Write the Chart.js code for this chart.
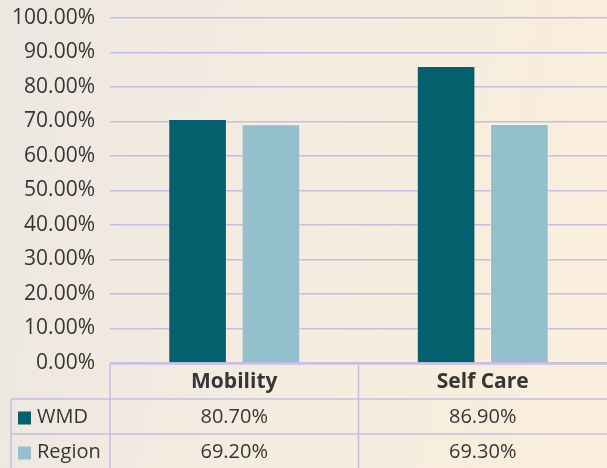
<!DOCTYPE html>
<html>
<head>
<meta charset="utf-8">
<script src="https://cdn.jsdelivr.net/npm/chart.js@4"></script>
<style>
  html, body { margin: 0; padding: 0; }
  body {
    width: 607px;
    height: 468px;
    background: linear-gradient(100deg, #ebe7e1 0%, #f4ece0 45%, #fbeedc 100%);
    overflow: hidden;
  }
  #wrap { position: relative; width: 607px; height: 468px; }
</style>
</head>
<body>
<div id="wrap"><canvas id="chart" width="607" height="468"></canvas></div>
<script>
// Chart data
const categories = ["Mobility", "Self Care"];
const seriesNames = ["WMD", "Region"];
const wmdValues = [70.7, 86.1];
const regionValues = [69.2, 69.3];
// table text as printed under the chart
const wmdLabels = ["80.70%", "86.90%"];
const regionLabels = ["69.20%", "69.30%"];

const wmdColor = "#05606d";
const regionColor = "#93c0cc";
const gridColor = "#c6bde4";
const textColor = "#363636";
const fontFamily = "'Open Sans', sans-serif";

// Draws the data table under the plot
const tablePlugin = {
  id: "dataTable",
  afterDraw(chart) {
    const ctx = chart.ctx;
    const area = chart.chartArea;
    const x = chart.scales.x;
    const top = area.bottom + 1;
    const rowH = 35;
    const left = 11;
    const right = chart.width;
    const mid = (x.getPixelForValue(0) + x.getPixelForValue(1)) / 2;

    ctx.save();
    ctx.strokeStyle = gridColor;
    ctx.lineWidth = 1.5;
    ctx.beginPath();
    ctx.moveTo(area.left, top); ctx.lineTo(right, top);
    ctx.moveTo(left, top + rowH); ctx.lineTo(right, top + rowH);
    ctx.moveTo(left, top + rowH * 2); ctx.lineTo(right, top + rowH * 2);
    ctx.moveTo(area.left, top); ctx.lineTo(area.left, chart.height);
    ctx.moveTo(mid, top); ctx.lineTo(mid, chart.height);
    ctx.moveTo(left, top + rowH); ctx.lineTo(left, chart.height);
    ctx.stroke();

    ctx.fillStyle = textColor;
    ctx.textAlign = "center";
    ctx.textBaseline = "middle";

    // header
    ctx.font = "bold 21px " + fontFamily;
    categories.forEach((c, i) => {
      const cx = i === 0 ? (area.left + mid) / 2 : (mid + right) / 2;
      ctx.fillText(c, cx, top + rowH / 2 + 1);
    });

    // rows
    ctx.font = "20px " + fontFamily;
    const rows = [
      { name: seriesNames[0], color: wmdColor, labels: wmdLabels },
      { name: seriesNames[1], color: regionColor, labels: regionLabels },
    ];
    rows.forEach((r, ri) => {
      const cy = top + rowH * (ri + 1) + rowH / 2 + 1;
      ctx.fillStyle = r.color;
      ctx.fillRect(18, cy - 6, 13, 13);
      ctx.fillStyle = textColor;
      ctx.textAlign = "left";
      ctx.fillText(r.name, 37, cy);
      ctx.textAlign = "center";
      r.labels.forEach((t, i) => {
        const cx = i === 0 ? (area.left + mid) / 2 : (mid + right) / 2;
        ctx.fillText(t, cx, cy);
      });
    });
    ctx.restore();
  },
};

new Chart(document.getElementById("chart"), {
  type: "bar",
  data: {
    labels: categories,
    datasets: [
      {
        label: seriesNames[0],
        data: wmdValues,
        backgroundColor: wmdColor,
        borderColor: "rgba(255,255,255,0.25)",
        borderWidth: 1,
        categoryPercentage: 0.59,
        barPercentage: 0.8,
      },
      {
        label: seriesNames[1],
        data: regionValues,
        backgroundColor: regionColor,
        borderColor: "rgba(255,255,255,0.25)",
        borderWidth: 1,
        categoryPercentage: 0.59,
        barPercentage: 0.8,
      },
    ],
  },
  options: {
    responsive: false,
    animation: false,
    layout: { padding: { top: 18, bottom: 105, right: 0, left: 0 } },
    plugins: {
      legend: { display: false },
      tooltip: { enabled: false },
    },
    scales: {
      x: {
        display: false,
      },
      y: {
        min: 0,
        max: 100,
        afterFit: (scale) => {
          scale.width = 110;
          scale.paddingTop = 0;
          scale.paddingBottom = 0;
        },
        border: { display: false },
        grid: { color: gridColor, lineWidth: 1.5, drawTicks: false },
        ticks: {
          stepSize: 10,
          padding: 15,
          color: textColor,
          font: { family: fontFamily, size: 21 },
          callback: (v) => v.toFixed(2) + "%",
        },
      },
    },
  },
  plugins: [tablePlugin],
});
</script>
</body>
</html>
